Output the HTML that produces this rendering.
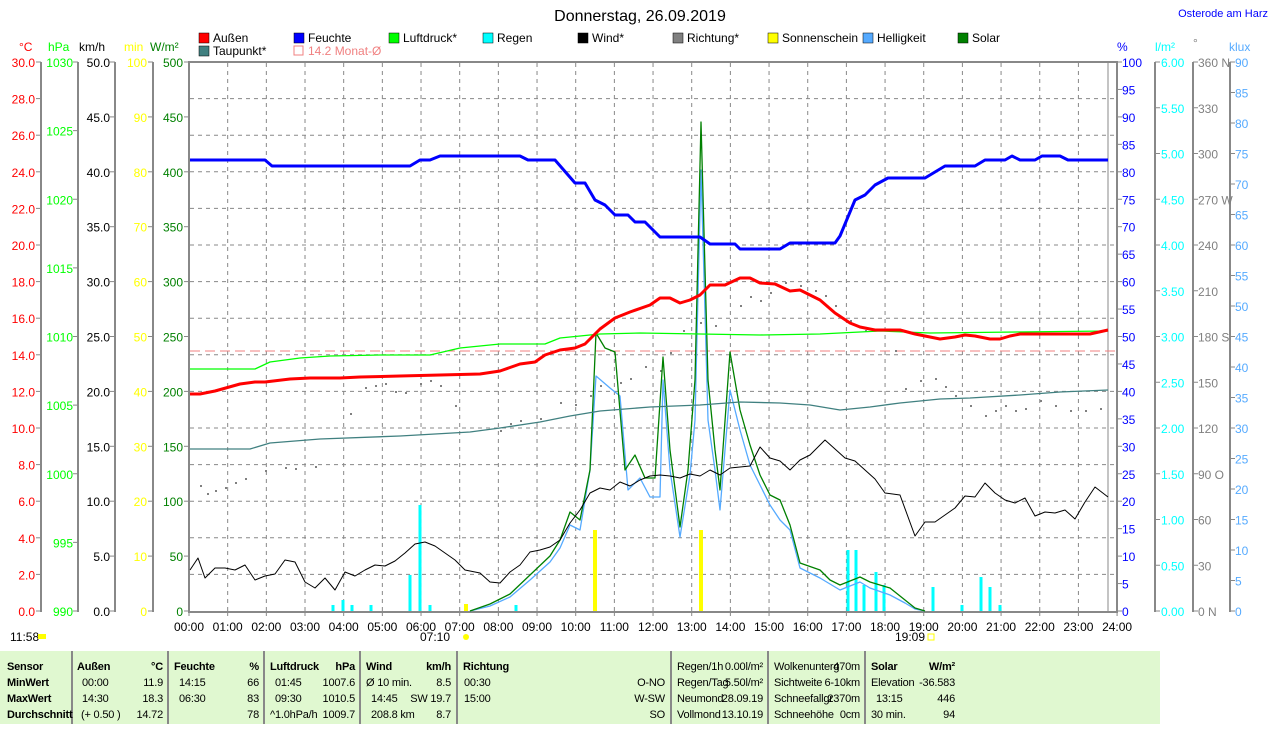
<!DOCTYPE html>
<html><head><meta charset="utf-8"><style>
body{margin:0;background:#fff;width:1274px;height:724px;overflow:hidden;font-family:"Liberation Sans",sans-serif;}
svg text{font-family:"Liberation Sans",sans-serif;font-size:12px;}
#tbl text{font-size:11px;letter-spacing:-0.2px;}
</style></head><body>
<svg width="1274" height="724" xmlns="http://www.w3.org/2000/svg">
<text x="640" y="21" text-anchor="middle" style="font-size:16px">Donnerstag, 26.09.2019</text>
<text x="1268" y="17" text-anchor="end" fill="#0000ff" style="font-size:11px">Osterode am Harz</text>
<g style="font-size:12px">
<rect x="199" y="33" width="10" height="10" fill="#f00" stroke="#000" stroke-width="0.5"/><text x="213" y="42">Außen</text>
<rect x="294" y="33" width="10" height="10" fill="#00f" stroke="#000" stroke-width="0.5"/><text x="308" y="42">Feuchte</text>
<rect x="389" y="33" width="10" height="10" fill="#0f0" stroke="#000" stroke-width="0.5"/><text x="403" y="42">Luftdruck*</text>
<rect x="483" y="33" width="10" height="10" fill="#0ff" stroke="#000" stroke-width="0.5"/><text x="497" y="42">Regen</text>
<rect x="578" y="33" width="10" height="10" fill="#000" stroke="#000" stroke-width="0.5"/><text x="592" y="42">Wind*</text>
<rect x="673" y="33" width="10" height="10" fill="#808080" stroke="#000" stroke-width="0.5"/><text x="687" y="42">Richtung*</text>
<rect x="768" y="33" width="10" height="10" fill="#ff0" stroke="#000" stroke-width="0.5"/><text x="782" y="42">Sonnenschein</text>
<rect x="863" y="33" width="10" height="10" fill="#55aaff" stroke="#000" stroke-width="0.5"/><text x="877" y="42">Helligkeit</text>
<rect x="958" y="33" width="10" height="10" fill="#008000" stroke="#000" stroke-width="0.5"/><text x="972" y="42">Solar</text>
<rect x="199" y="46" width="10" height="10" fill="#408080" stroke="#000" stroke-width="0.5"/><text x="213" y="55">Taupunkt*</text>
<rect x="294" y="46" width="9" height="9" fill="none" stroke="#f08080"/><text x="308" y="55" fill="#f08080">14.2 Monat-Ø</text>
</g>
<text x="19" y="51" fill="#f00">°C</text><text x="48" y="51" fill="#0f0">hPa</text><text x="79" y="51">km/h</text><text x="124" y="51" fill="#ff0">min</text><text x="150" y="51" fill="#008000">W/m²</text>
<text x="1117" y="51" fill="#00f">%</text><text x="1155" y="51" fill="#0ff">l/m²</text><text x="1193" y="47" fill="#808080">°</text><text x="1229" y="51" fill="#55aaff">klux</text>
<g stroke="#888" stroke-dasharray="4,4" stroke-width="1" id="grid"></g>
<g stroke="#888" stroke-width="2" fill="none">
<line x1="41" y1="62" x2="41" y2="612"/><line x1="78" y1="62" x2="78" y2="612"/><line x1="115" y1="62" x2="115" y2="612"/><line x1="153" y1="62" x2="153" y2="612"/>
<rect x="189" y="62" width="928" height="550"/>
<line x1="1108" y1="62" x2="1108" y2="612" stroke-width="1"/>
<line x1="1155" y1="62" x2="1155" y2="612"/><line x1="1193" y1="62" x2="1193" y2="612"/><line x1="1230" y1="62" x2="1230" y2="612"/>
</g>
<g id="ticks"></g>
<line x1="190" y1="351" x2="1116" y2="351" stroke="#f08080" stroke-dasharray="10,5"/>
<g id="dots" fill="#808080"></g>
<g stroke="#0ff" stroke-width="3">
<line x1="333" y1="611" x2="333" y2="605"/><line x1="343" y1="611" x2="343" y2="600"/><line x1="352" y1="611" x2="352" y2="605"/><line x1="371" y1="611" x2="371" y2="605"/><line x1="410" y1="611" x2="410" y2="575"/><line x1="420" y1="611" x2="420" y2="505"/><line x1="430" y1="611" x2="430" y2="605"/><line x1="516" y1="611" x2="516" y2="605"/><line x1="848" y1="611" x2="848" y2="550"/><line x1="856" y1="611" x2="856" y2="550"/><line x1="864" y1="611" x2="864" y2="585"/><line x1="876" y1="611" x2="876" y2="572"/><line x1="884" y1="611" x2="884" y2="585"/><line x1="933" y1="611" x2="933" y2="587"/><line x1="962" y1="611" x2="962" y2="605"/><line x1="981" y1="611" x2="981" y2="577"/><line x1="990" y1="611" x2="990" y2="587"/><line x1="1000" y1="611" x2="1000" y2="605"/>
</g>
<g stroke="#ff0" stroke-width="4"><line x1="595" y1="611" x2="595" y2="530"/><line x1="701" y1="611" x2="701" y2="530"/><line x1="466" y1="611" x2="466" y2="604"/></g>
<g fill="none" stroke-linejoin="round">
<polyline stroke="#55aaff" stroke-width="1.3" points="470,611 490,606 510,597 530,580 550,562 560,548 570,525 580,530 590,470 596,376 610,388 620,396 628,490 640,478 650,497 660,497 663,380 670,470 680,537 690,475 695,420 701,170 708,420 715,470 720,510 730,390 740,430 750,465 760,485 770,505 780,520 790,530 800,568 820,578 830,584 840,590 860,582 870,588 890,595 905,603 915,609 925,611"/>
<polyline stroke="#008000" stroke-width="1.3" points="470,611 490,604 510,594 530,575 550,556 560,540 570,512 580,520 590,470 596,333 605,348 615,352 625,470 635,455 645,478 655,478 663,357 670,450 680,527 688,470 695,380 701,122 708,380 715,450 720,490 730,352 740,410 750,445 760,475 770,495 780,500 790,525 800,563 820,570 830,580 840,585 860,577 870,582 890,588 905,600 915,608 925,611"/>
<polyline stroke="#000" stroke-width="1" points="190,570 198,558 205,578 215,568 225,568 235,570 245,565 255,580 265,576 275,574 285,560 295,562 305,582 315,588 325,578 335,590 345,572 355,576 365,570 375,565 385,566 395,561 405,553 415,544 425,542 435,546 445,553 455,560 465,570 470,571 480,573 490,582 500,583 510,572 520,565 530,552 540,550 550,547 560,540 570,523 580,510 590,493 600,488 610,490 620,482 630,486 640,480 650,476 660,475 670,476 680,478 690,474 700,476 710,470 720,475 730,468 740,467 750,466 760,447 770,458 780,461 790,470 800,460 810,455 825,440 835,449 845,458 855,461 865,470 875,479 885,493 900,495 915,536 925,522 935,522 945,515 955,508 965,496 975,497 985,483 995,493 1005,500 1015,503 1025,498 1035,516 1045,512 1055,513 1065,510 1075,519 1085,502 1095,487 1108,497"/>
<polyline stroke="#408080" stroke-width="1.3" points="190,449 250,449 270,443 320,439 400,436 470,432 500,428 540,422 570,416 600,411 650,407 700,405 740,402 780,403 810,405 840,410 870,407 900,403 940,399 970,398 1020,395 1060,392 1108,390"/>
<polyline stroke="#0f0" stroke-width="1.3" points="190,369 255,369 270,362 300,358 330,356 380,355 430,355 460,348 500,344 545,344 560,338 600,334 640,333 700,334 760,335 820,334 880,331 930,333 1108,331"/>
<polyline stroke="#f00" stroke-width="3" points="190,394 200,394 215,391 240,384 255,382 265,382 290,379 310,378 340,378 360,377 400,376 440,375 480,374 500,371 520,364 535,362 545,355 560,350 575,348 585,344 600,329 615,318 630,312 650,305 660,298 670,298 680,303 690,300 700,295 710,285 725,285 740,278 750,278 760,283 775,284 790,291 800,290 820,300 835,313 850,323 860,327 875,330 900,330 915,334 940,339 955,337 965,335 975,336 990,339 1000,339 1010,336 1020,334 1090,334 1108,330"/>
<polyline stroke="#00f" stroke-width="3" points="190,160 265,160 272,166 410,166 420,160 430,160 440,156 520,156 528,160 555,160 575,183 585,183 595,200 605,205 615,215 628,215 635,222 645,222 660,237 700,237 710,244 735,244 740,249 780,249 790,243 835,243 840,236 855,200 865,195 875,185 888,178 925,178 945,166 975,166 985,160 1005,160 1012,156 1020,160 1035,160 1042,156 1060,156 1068,160 1108,160"/>
</g>
<g id="xl"></g>
<text x="420" y="641">07:10</text><circle cx="466" cy="637" r="3" fill="#ff0"/>
<text x="895" y="641">19:09</text><rect x="928" y="634" width="6" height="6" fill="none" stroke="#ff0"/>
<text x="10" y="641">11:58</text><rect x="38" y="634" width="8" height="5" fill="#ff0"/>
<rect x="0" y="651" width="1160" height="73" fill="#e0f8d0"/>
<g stroke="#888" stroke-width="2"><line x1="72" y1="651" x2="72" y2="724"/><line x1="168" y1="651" x2="168" y2="724"/><line x1="264" y1="651" x2="264" y2="724"/><line x1="360" y1="651" x2="360" y2="724"/><line x1="457" y1="651" x2="457" y2="724"/><line x1="671" y1="651" x2="671" y2="724"/><line x1="768" y1="651" x2="768" y2="724"/><line x1="865" y1="651" x2="865" y2="724"/></g>
<g id="tbl"></g>
</svg>
<script>
const NS="http://www.w3.org/2000/svg";
function el(p,t,a,txt){const e=document.createElementNS(NS,t);for(const k in a)e.setAttribute(k,a[k]);if(txt!==undefined)e.textContent=txt;document.getElementById(p).appendChild(e);return e;}
for(let i=1;i<15;i++){const y=611-i*36.6;el('grid','line',{x1:190,x2:1116,y1:y,y2:y});}
for(let h=1;h<24;h++){const x=189+h*38.67;el('grid','line',{x1:x,x2:x,y1:63,y2:611});}
for(let h=0;h<=24;h++){const x=189+h*38.67;el('xl','text',{x:x,y:631,'text-anchor':'middle'},(h<10?'0':'')+h+':00');el('ticks','line',{x1:x,x2:x,y1:611,y2:616,stroke:'#888'});}
function axis(ax,endx,n,lab,col,left){for(let i=0;i<=n;i++){const y=611-i*549/n;if(lab(i)===null)continue;
el('ticks','line',{x1:left?ax-5:ax,x2:left?ax:ax+5,y1:y,y2:y,stroke:'#888'});
el('ticks','text',{x:endx,y:y+5,fill:col,'text-anchor':left?'end':'start'},lab(i));}}
axis(41,35,15,i=>(i*2).toFixed(1),'#f00',true);
axis(78,73,40,i=>i%5==0?String(990+i):null,'#0f0',true);
axis(115,110,10,i=>(i*5).toFixed(1),'#000',true);
axis(153,147,10,i=>String(i*10),'#ff0',true);
axis(189,183,10,i=>String(i*50),'#008000',true);
axis(1117,1122,20,i=>String(i*5),'#00f',false);
axis(1155,1161,12,i=>(i*0.5).toFixed(2),'#0ff',false);
axis(1193,1198,12,i=>{const d=i*30;const m={0:' N',3:' O',6:' S',9:' W',12:' N'};return d+(m[i]||'');},'#808080',false);
axis(1230,1235,18,i=>String(i*5),'#55aaff',false);
const dp=[[200,485],[207,493],[215,490],[225,487],[235,482],[245,478],[265,470],[285,467],[295,468],[315,466],[350,413],[365,387],[375,385],[385,383],[395,391],[405,392],[420,383],[430,380],[440,385],[455,405],[500,430],[510,423],[520,420],[540,418],[560,402],[575,404],[590,395],[600,385],[620,382],[630,378],[645,366],[660,370],[670,352],[683,330],[700,322],[715,325],[740,305],[750,296],[760,300],[770,292],[785,282],[800,285],[815,290],[825,295],[835,305],[850,320],[865,330],[895,350],[905,388],[920,380],[935,378],[945,386],[955,395],[970,405],[985,415],[995,410],[1005,405],[1015,410],[1025,408],[1040,400],[1055,405],[1070,410],[1085,410],[1100,408]];
dp.forEach(p=>el('dots','rect',{x:p[0],y:p[1],width:2,height:2}));
const T=[[7,670,'Sensor',1],[77,670,'Außen',1],[163,670,'°C',1,'end'],[174,670,'Feuchte',1],[259,670,'%',1,'end'],[270,670,'Luftdruck',1],[355,670,'hPa',1,'end'],[366,670,'Wind',1],[451,670,'km/h',1,'end'],[463,670,'Richtung',1],
[7,686,'MinWert',1],[82,686,'00:00'],[163,686,'11.9',0,'end'],[179,686,'14:15'],[259,686,'66',0,'end'],[275,686,'01:45'],[355,686,'1007.6',0,'end'],[366,686,'Ø 10 min.'],[451,686,'8.5',0,'end'],[464,686,'00:30'],[665,686,'O-NO',0,'end'],
[7,702,'MaxWert',1],[82,702,'14:30'],[163,702,'18.3',0,'end'],[179,702,'06:30'],[259,702,'83',0,'end'],[275,702,'09:30'],[355,702,'1010.5',0,'end'],[371,702,'14:45'],[451,702,'SW 19.7',0,'end'],[464,702,'15:00'],[665,702,'W-SW',0,'end'],
[7,718,'Durchschnitt',1],[81,718,'(+ 0.50 )'],[163,718,'14.72',0,'end'],[259,718,'78',0,'end'],[270,718,'^1.0hPa/h'],[355,718,'1009.7',0,'end'],[371,718,'208.8 km'],[451,718,'8.7',0,'end'],[665,718,'SO',0,'end'],
[677,670,'Regen/1h'],[763,670,'0.00l/m²',0,'end'],[677,686,'Regen/Tag'],[763,686,'5.50l/m²',0,'end'],[677,702,'Neumond'],[763,702,'28.09.19',0,'end'],[677,718,'Vollmond'],[763,718,'13.10.19',0,'end'],
[774,670,'Wolkenunterg'],[860,670,'470m',0,'end'],[774,686,'Sichtweite'],[860,686,'6-10km',0,'end'],[774,702,'Schneefallgr'],[860,702,'2370m',0,'end'],[774,718,'Schneehöhe'],[860,718,'0cm',0,'end'],
[871,670,'Solar',1],[955,670,'W/m²',1,'end'],[871,686,'Elevation'],[955,686,'-36.583',0,'end'],[876,702,'13:15'],[955,702,'446',0,'end'],[871,718,'30 min.'],[955,718,'94',0,'end']];
T.forEach(t=>{const a={x:t[0],y:t[1]};if(t[3])a['font-weight']='bold';if(t[4])a['text-anchor']=t[4];el('tbl','text',a,t[2]);});
</script>
</body></html>
